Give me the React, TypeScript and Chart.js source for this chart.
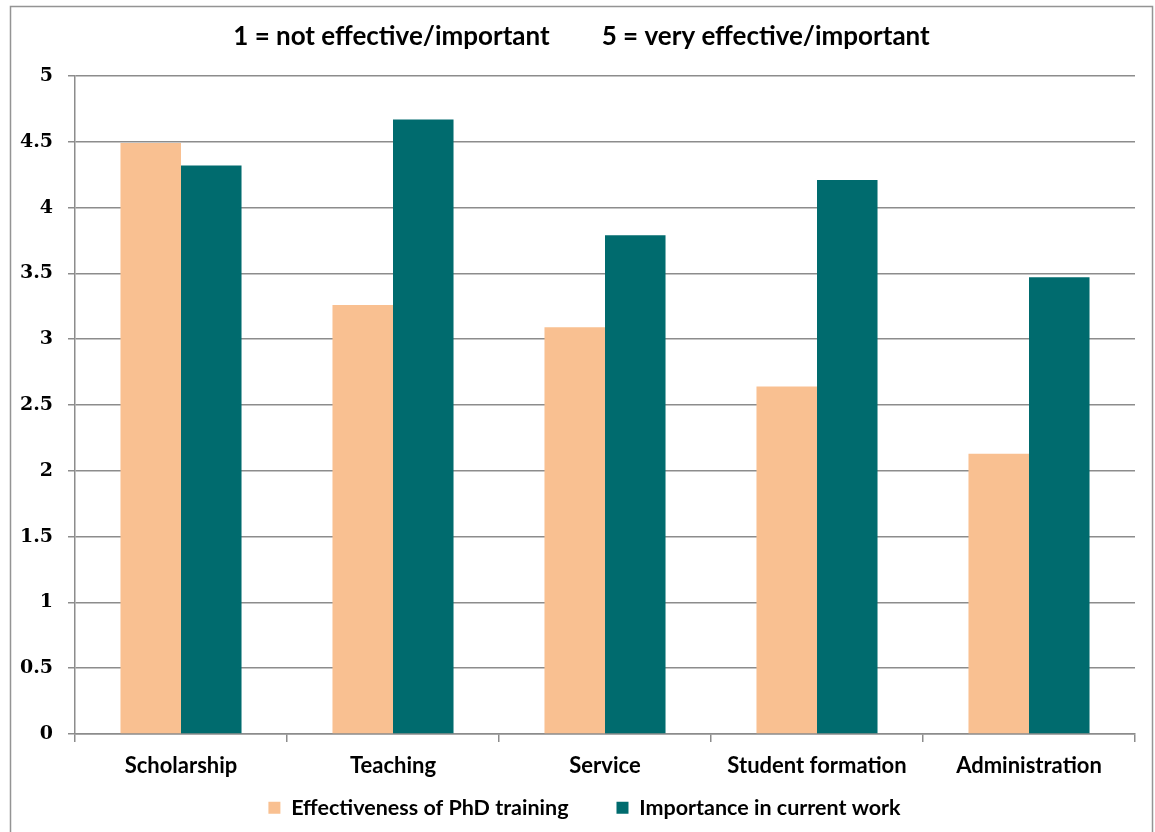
import React, { useEffect, useRef } from "react";
import { Chart, registerables } from "chart.js";

Chart.register(...registerables);

const categories = ["Scholarship", "Teaching", "Service", "Student formation", "Administration"];
const effectiveness = [4.49, 3.26, 3.09, 2.64, 2.13];
const importance = [4.32, 4.67, 3.79, 4.21, 3.47];
const seriesNames = ["Effectiveness of PhD training", "Importance in current work"];
const titleLeft = "1 = not effective/important";
const titleRight = "5 = very effective/important";

const GRID = "#8c8c8c";

const framePlugin = {
  id: "frame",
  afterLayout(chart: any) {
    const lg = chart.legend;
    if (!lg) return;
    lg.left = 34;
    lg.right = 1135;
    lg.width = lg.right - lg.left;
    lg.top = 749;
    lg.bottom = 832;
    lg.height = lg.bottom - lg.top;
  },
  beforeDraw(chart: any) {
    const ctx = chart.ctx;
    ctx.save();
    ctx.fillStyle = "#ffffff";
    ctx.fillRect(0, 0, chart.width, chart.height);
    ctx.strokeStyle = "#949494";
    ctx.lineWidth = 1.5;
    ctx.strokeRect(10.5, 6.5, 1142, 900);
    ctx.restore();
  },
  afterDraw(chart: any) {
    const ctx = chart.ctx;
    ctx.save();
    ctx.font = "bold 26px Lato";
    ctx.fillStyle = "#000";
    ctx.textBaseline = "alphabetic";
    ctx.textAlign = "left";
    const gap = 52;
    const w1 = ctx.measureText(titleLeft).width;
    const w2 = ctx.measureText(titleRight).width;
    const start = 581.5 - (w1 + gap + w2) / 2;
    ctx.fillText(titleLeft, start, 45);
    ctx.fillText(titleRight, start + w1 + gap, 45);
    ctx.restore();
  },
};

export default function App() {
  const ref = useRef<HTMLCanvasElement | null>(null);
  useEffect(() => {
    if (!ref.current) return;
    const chart = new Chart(ref.current, {
      type: "bar",
      data: {
        labels: categories,
        datasets: [
          {
            label: seriesNames[0],
            data: effectiveness,
            backgroundColor: "#F9C091",
            borderWidth: 0,
          },
          {
            label: seriesNames[1],
            data: importance,
            backgroundColor: "#006B6E",
            borderWidth: 0,
          },
        ],
      },
      options: {
        animation: false,
        responsive: true,
        maintainAspectRatio: false,
        layout: { padding: { left: 0, right: 20, top: 76, bottom: 0 } },
        datasets: { bar: { categoryPercentage: 0.571, barPercentage: 1 } },
        plugins: {
          title: { display: false },
          tooltip: { enabled: false },
          legend: {
            position: "bottom",
            maxHeight: 53,
            labels: {
              boxWidth: 12,
              boxHeight: 12,
              padding: 48,
              color: "#000",
              font: { family: "Lato", weight: "bold", size: 21.5 },
            },
          },
        },
        scales: {
          x: {
            afterFit(scale: any) {
              scale.height = 45;
            },
            grid: {
              display: true,
              offset: true,
              drawOnChartArea: false,
              drawTicks: true,
              tickLength: 8,
              color: GRID,
              lineWidth: 1.5,
            },
            border: { display: true, color: GRID, width: 1.5 },
            ticks: {
              color: "#000",
              padding: 11,
              maxRotation: 0,
              font: { family: "Lato", weight: "bold", size: 22 },
            },
          },
          y: {
            min: 0,
            max: 5,
            afterFit(scale: any) {
              scale.width = 75;
            },
            grid: {
              color: GRID,
              lineWidth: 1.5,
              drawTicks: true,
              tickLength: 7,
            },
            border: { display: true, color: GRID, width: 1.5 },
            ticks: {
              stepSize: 0.5,
              color: "#000",
              padding: 15,
              callback: (v: any) => String(Math.round(Number(v) * 10) / 10),
              font: { family: "DejaVu Serif", weight: "bold", size: 19 },
            },
          },
        },
      },
      plugins: [framePlugin],
    });
    return () => chart.destroy();
  }, []);
  return (
    <div style={{ position: "fixed", left: 0, top: 0, width: 1155, height: 832, background: "#fff" }}>
      <canvas ref={ref} />
    </div>
  );
}
